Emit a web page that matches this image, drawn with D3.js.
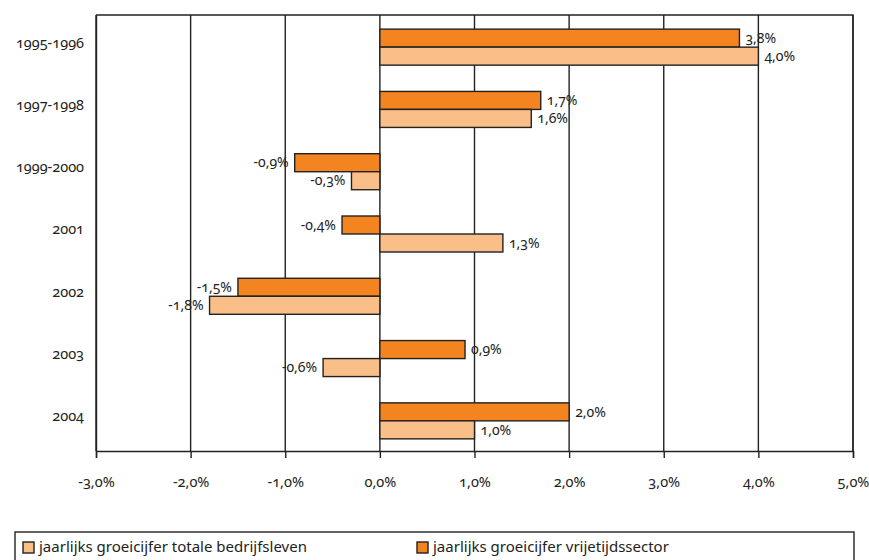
<!DOCTYPE html>
<html>
<head>
<meta charset="utf-8">
<script src="https://cdn.jsdelivr.net/npm/d3@7"></script>
<style>
  html, body { margin: 0; padding: 0; background: #fff; }
  svg { display: block; }
  text { font-family: "Noto Sans", "Open Sans", sans-serif; font-variant-numeric: oldstyle-nums; fill: #222; }
</style>
</head>
<body>
<svg id="chart" width="869" height="560"></svg>
<script>
// Periods shown on the vertical axis
const categories = ["1995-1996", "1997-1998", "1999-2000", "2001", "2002", "2003", "2004"];
// Annual growth figures (%)
const vrijetijdssector = [3.8, 1.7, -0.9, -0.4, -1.5, 0.9, 2.0];
const totaleBedrijfsleven = [4.0, 1.6, -0.3, 1.3, -1.8, -0.6, 1.0];
// Horizontal axis ticks (%)
const xTicks = [-3, -2, -1, 0, 1, 2, 3, 4, 5];

const seriesNames = ["jaarlijks groeicijfer vrijetijdssector", "jaarlijks groeicijfer totale bedrijfsleven"];
const seriesValues = [vrijetijdssector, totaleBedrijfsleven];
const seriesColors = ["#F4841F", "#FABE88"];
const legendOrder = [1, 0];

const fmt = v => d3.format(".1f")(v).replace(".", ",").replace("−", "-") + "%";

const svg = d3.select("#chart");
const m = { left: 96, right: 16, top: 15, bottom: 109 };
const W = 869, H = 560;

const x = d3.scaleLinear().domain([xTicks[0], xTicks[xTicks.length - 1]]).range([m.left, W - m.right]);
const y = d3.scaleBand().domain(categories).range([m.top, H - m.bottom]).padding(0);
const sub = d3.scaleBand().domain(d3.range(seriesValues.length)).range([0, y.bandwidth()])
  .paddingInner(0).paddingOuter(0.73);

// vertical gridlines
svg.append("g").selectAll("line").data(xTicks).join("line")
  .attr("x1", d => x(d)).attr("x2", d => x(d))
  .attr("y1", m.top).attr("y2", H - m.bottom)
  .attr("stroke", "#222").attr("stroke-width", 1.4);

// plot frame (top and right edges)
svg.append("path")
  .attr("d", `M${x.range()[0]},${m.top}H${x.range()[1]}V${H - m.bottom}`)
  .attr("fill", "none").attr("stroke", "#222").attr("stroke-width", 1.4);

// bars
const rows = [];
categories.forEach((c, i) => seriesValues.forEach((vals, s) => rows.push({ c, s, v: vals[i] })));

svg.append("g").selectAll("rect").data(rows).join("rect")
  .attr("x", d => x(Math.min(0, d.v)))
  .attr("width", d => Math.abs(x(d.v) - x(0)))
  .attr("y", d => y(d.c) + sub(d.s) + 1)
  .attr("height", sub.bandwidth())
  .attr("fill", d => seriesColors[d.s])
  .attr("stroke", "#222").attr("stroke-width", 1.4);

// value labels
svg.append("g").selectAll("text").data(rows).join("text")
  .attr("x", d => x(d.v) + (d.v >= 0 ? 6 : -6))
  .attr("y", d => y(d.c) + sub(d.s) + sub.bandwidth() / 2 + 2)
  .attr("text-anchor", d => d.v >= 0 ? "start" : "end")
  .attr("dominant-baseline", "middle")
  .attr("font-size", 14)
  .text(d => fmt(d.v));

// horizontal axis
const xAxis = svg.append("g").attr("transform", `translate(0,${H - m.bottom})`)
  .call(d3.axisBottom(x).tickValues(xTicks).tickSize(7).tickPadding(19).tickFormat(fmt));
xAxis.select(".domain").attr("stroke", "#222").attr("stroke-width", 1.4);
xAxis.selectAll(".tick line").attr("stroke", "#222").attr("stroke-width", 1.4);
xAxis.selectAll(".tick text").attr("font-size", 14.5).attr("font-family", null).attr("fill", "#222");

// vertical axis
const yAxis = svg.append("g").attr("transform", `translate(${m.left},0)`)
  .call(d3.axisLeft(y).tickSize(0).tickPadding(12));
yAxis.select(".domain").attr("stroke", "#222").attr("stroke-width", 1.4);
yAxis.selectAll(".tick text").attr("font-size", 14.5).attr("font-family", null).attr("fill", "#222")
  .attr("dy", "0.1em");

// legend
const lg = svg.append("g");
lg.append("rect").attr("x", 15).attr("y", 532).attr("width", 839).attr("height", 40)
  .attr("fill", "#fff").attr("stroke", "#222").attr("stroke-width", 1.4);
const legendX = [23, 417];
legendOrder.forEach((s, k) => {
  const g = lg.append("g").attr("transform", `translate(${legendX[k]},542)`);
  g.append("rect").attr("width", 11).attr("height", 11)
    .attr("fill", seriesColors[s]).attr("stroke", "#222").attr("stroke-width", 1.4);
  g.append("text").attr("x", 16).attr("y", 6).attr("dominant-baseline", "middle")
    .attr("font-size", 15).attr("font-family", "'Open Sans', sans-serif")
    .text(seriesNames[s]);
});
</script>
</body>
</html>
